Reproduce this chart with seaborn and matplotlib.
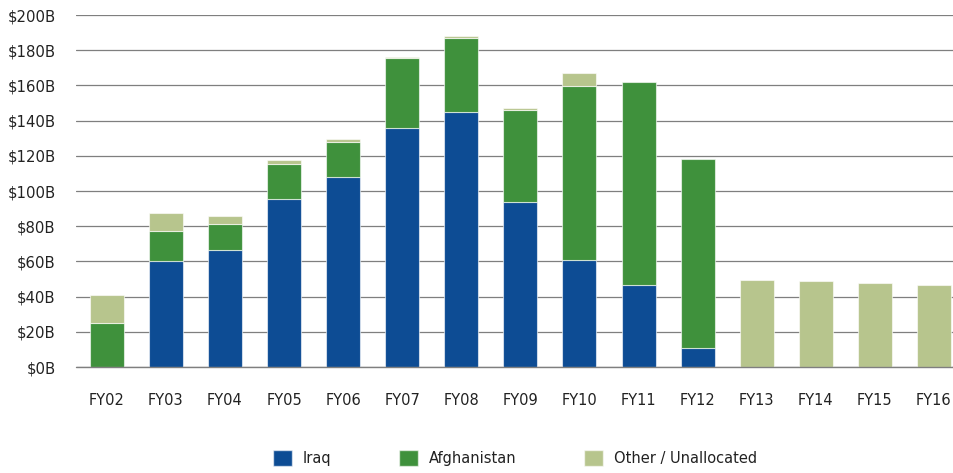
import matplotlib
matplotlib.use("Agg")
import matplotlib.pyplot as plt
from matplotlib.patches import Patch
from matplotlib.ticker import FuncFormatter
import numpy as np
import seaborn as sns

# War funding by fiscal year, $ billions
years = ["FY02", "FY03", "FY04", "FY05", "FY06", "FY07", "FY08", "FY09",
         "FY10", "FY11", "FY12", "FY13", "FY14", "FY15", "FY16"]
iraq = [0, 60.2, 66.5, 95.3, 108.0, 136.0, 144.9, 93.8,
        60.8, 46.5, 10.6, 0, 0, 0, 0]
afghanistan = [25.0, 17.1, 14.5, 19.9, 20.0, 39.4, 41.8, 52.0,
               98.9, 115.2, 107.4, 0, 0, 0, 0]
other = [16.0, 10.2, 4.6, 2.2, 1.3, 0.9, 1.5, 1.2,
         7.5, 0, 0, 49.2, 48.7, 47.7, 46.6]

series_names = ["Iraq", "Afghanistan", "Other / Unallocated"]
colors = ["#0d4c94", "#3f913c", "#b7c58d"]

sns.set_theme(style="white")
plt.rcParams["font.family"] = ["DejaVu Sans"]

W, H = 954, 473
fig = plt.figure(figsize=(W / 100, H / 100), dpi=100)
left_px, right_px, top_px, zero_px = 76.5, 954, 15, 367
ax = fig.add_axes([left_px / W, 1 - zero_px / H,
                   (right_px - left_px) / W, (zero_px - top_px) / H])

bottom = np.zeros(len(years))
for name, vals, col in zip(series_names, [iraq, afghanistan, other], colors):
    sns.barplot(x=years, y=vals, bottom=bottom, color=col, width=0.575,
                edgecolor=(1, 1, 1, 0.6), linewidth=0.8, ax=ax, zorder=3,
                saturation=1)
    bottom = bottom + np.array(vals)

# empty segments would paint a white edge over the baseline
for p in list(ax.patches):
    if p.get_height() == 0:
        p.remove()

ax.set_ylim(0, 200)
ax.set_yticks(np.arange(0, 201, 20))
ax.yaxis.set_major_formatter(FuncFormatter(lambda v, _: f"${v:.0f}B"))
ax.set_xlim(-0.513, 14.34)

ax.grid(axis="y", color="#7f7f7f", linewidth=0.9, zorder=0)
ax.set_axisbelow(True)
ax.axhline(0, color="#7f7f7f", linewidth=1.0, zorder=4, clip_on=False)
for s in ax.spines.values():
    s.set_visible(False)
ax.tick_params(axis="y", length=0, pad=15, labelsize=10.7, labelcolor="#222222")
ax.tick_params(axis="x", length=0, pad=19, labelsize=10.5, labelcolor="#222222")
ax.set_xlabel("")
ax.set_ylabel("")

handles = [Patch(facecolor=c, edgecolor=(1, 1, 1, 0.6), label=n)
           for n, c in zip(series_names, colors)]
fig.legend(handles=handles, loc="center", ncol=3, frameon=False,
           bbox_to_anchor=(515 / W, 1 - 458 / H), fontsize=10.5,
           handlelength=1.3, handleheight=1.37, handletextpad=0.75,
           columnspacing=4.65, labelcolor="#222222")

fig.savefig("out.png", dpi=100)
